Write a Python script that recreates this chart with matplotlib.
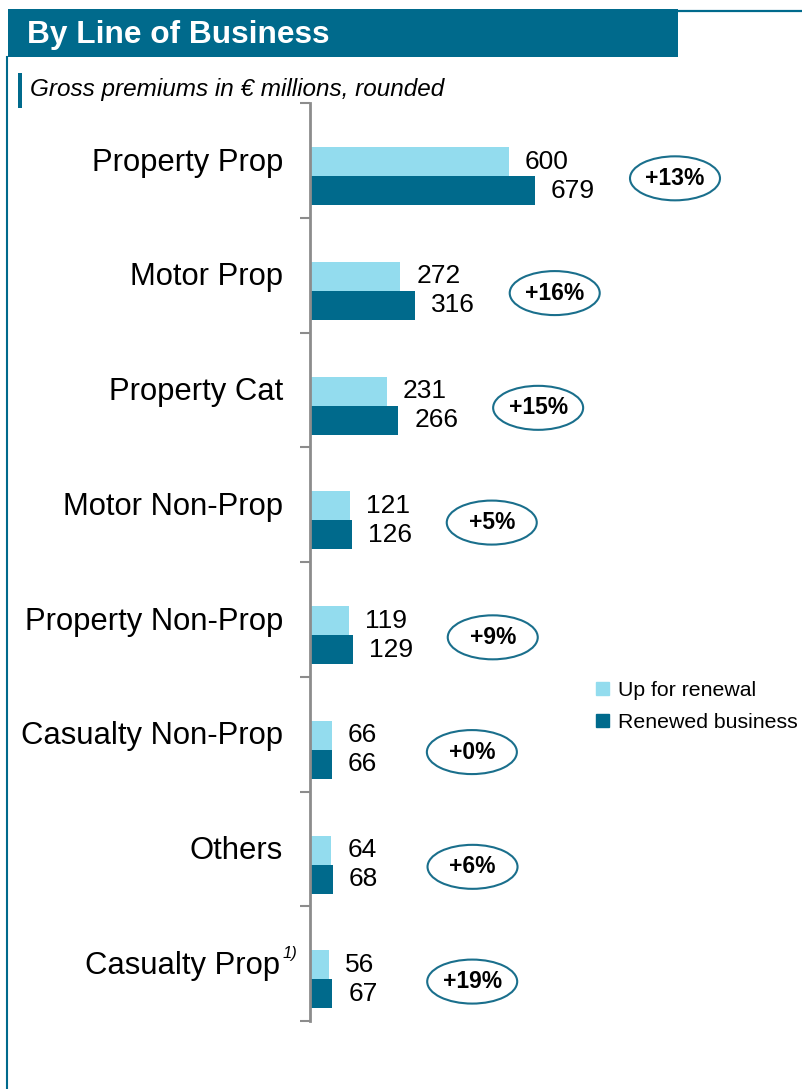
import matplotlib
matplotlib.use("Agg")
import matplotlib.pyplot as plt
from matplotlib.patches import Rectangle, Ellipse, Patch
from matplotlib.lines import Line2D

plt.rcParams['font.family'] = ['Liberation Sans', 'DejaVu Sans']

# data
categories = ["Property Prop", "Motor Prop", "Property Cat", "Motor Non-Prop",
              "Property Non-Prop", "Casualty Non-Prop", "Others", "Casualty Prop"]
up_for_renewal = [600, 272, 231, 121, 119, 66, 64, 56]
renewed = [679, 316, 266, 126, 129, 66, 68, 67]
changes = ["+13%", "+16%", "+15%", "+5%", "+9%", "+0%", "+6%", "+19%"]

LIGHT = "#93dcee"
DARK = "#006a8c"
GREY = "#8c8c8c"

W, H = 803, 1089
fig = plt.figure(figsize=(W / 100, H / 100), dpi=100)

def fx(px):
    return px / W

def fy(py):
    return 1 - py / H

# frame / header
fig.add_artist(Rectangle((fx(8), fy(57)), fx(678) - fx(8), fy(9) - fy(57),
                         transform=fig.transFigure, color=DARK, lw=0))
fig.add_artist(Line2D([fx(678), 1], [fy(10.5), fy(10.5)], transform=fig.transFigure,
                      color=DARK, lw=1.6))
fig.add_artist(Line2D([fx(7.5), fx(7.5)], [fy(57), 0], transform=fig.transFigure,
                      color=DARK, lw=1.5))
fig.text(fx(27), fy(35), "By Line of Business", color="white", fontsize=22.8,
         fontweight="bold", va="center", ha="left")
fig.add_artist(Rectangle((fx(18), fy(108)), fx(22) - fx(18), fy(73) - fy(108),
                         transform=fig.transFigure, color=DARK, lw=0))
fig.text(fx(30), fy(90), "Gross premiums in € millions, rounded", fontsize=17.5,
         style="italic", va="center", ha="left")

# axes
ax_left, ax_top, ax_bot = 310, 103, 1021
ax = fig.add_axes([fx(ax_left), fy(ax_bot), 1 - fx(ax_left), fy(ax_top) - fy(ax_bot)])
px_per_unit = 225 / 679
ax.set_xlim(0, (W - ax_left) / px_per_unit)
ax.set_ylim(len(categories), 0)
row_px = (ax_bot - ax_top) / len(categories)

ys = range(len(categories))
bh = 0.253
light_y = [i + 0.51 for i in ys]
dark_y = [i + 0.51 + bh for i in ys]
ax.barh(light_y, up_for_renewal, height=bh, color=LIGHT, label="Up for renewal")
ax.barh(dark_y, renewed, height=bh, color=DARK, label="Renewed business")

for s in ["top", "right", "bottom"]:
    ax.spines[s].set_visible(False)
ax.spines["left"].set_color(GREY)
ax.spines["left"].set_linewidth(2)
ax.set_xticks([])
ax.set_yticks(range(len(categories) + 1))
ax.set_yticklabels([])
ax.tick_params(axis="y", length=7, width=1.5, color=GREY, direction="out")

gap = 16 / px_per_unit
for i, cat in enumerate(categories):
    if cat == "Casualty Prop":
        ax.text(-30 / px_per_unit, light_y[i] + 0.01, cat, fontsize=22.3, ha="right",
                va="center", clip_on=False)
        ax.text(-27 / px_per_unit, light_y[i] - 0.1, "1)", fontsize=12,
                style="italic", ha="left", va="center", clip_on=False)
    else:
        ax.text(-27 / px_per_unit, light_y[i] + 0.01, cat, fontsize=22.3, ha="right",
                va="center", clip_on=False)
    ax.text(up_for_renewal[i] + gap, light_y[i], str(up_for_renewal[i]),
            fontsize=19, ha="left", va="center")
    ax.text(renewed[i] + gap, dark_y[i], str(renewed[i]),
            fontsize=19, ha="left", va="center")
    cx = renewed[i] + 140 / px_per_unit
    cy = i + 0.51 + bh / 2 + 0.02
    ax.add_patch(Ellipse((cx, cy), 90 / px_per_unit, 44 / row_px, fill=False,
                         edgecolor="#1a6f8c", lw=1.5, clip_on=False))
    ax.text(cx, cy, changes[i], fontsize=16.5, fontweight="bold", ha="center",
            va="center")

fig.legend(handles=[Patch(color=LIGHT, label="Up for renewal"),
                    Patch(color=DARK, label="Renewed business")],
           loc="upper left", bbox_to_anchor=(fx(596), fy(681)), frameon=False,
           fontsize=15.3, handlelength=0.6, handleheight=0.6, handletextpad=0.45,
           labelspacing=0.6, borderpad=0, borderaxespad=0)

fig.savefig("out.png", dpi=100)
